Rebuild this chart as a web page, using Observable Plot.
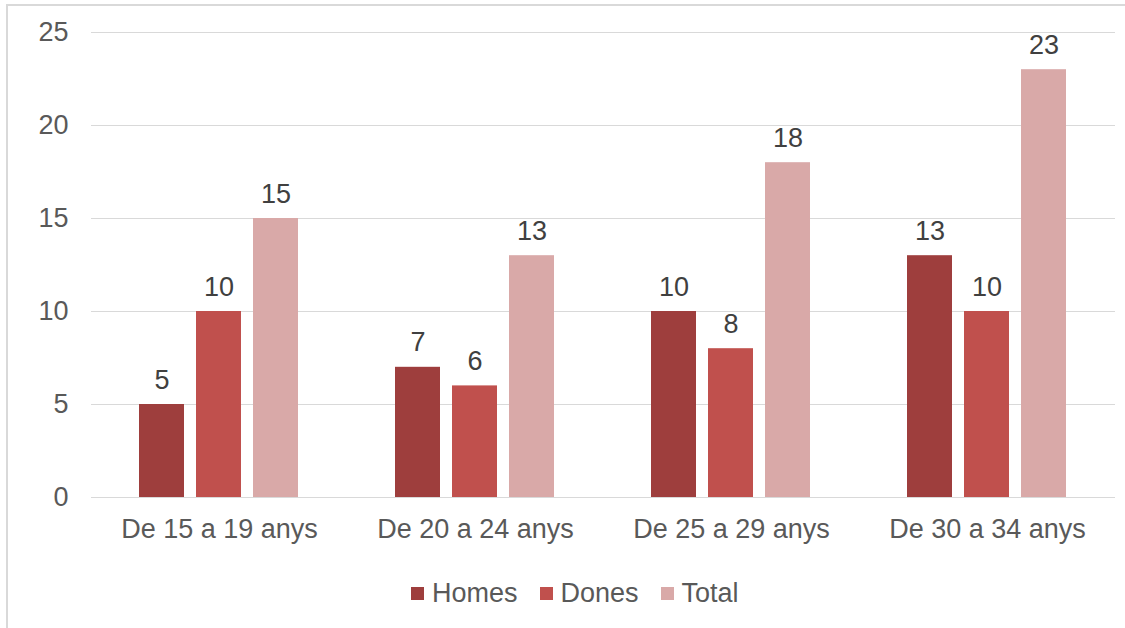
<!DOCTYPE html>
<html><head><meta charset="utf-8">
<script src="https://cdn.jsdelivr.net/npm/d3@7"></script>
<script src="https://cdn.jsdelivr.net/npm/@observablehq/plot@0.6"></script>
<style>
html,body{margin:0;padding:0;overflow:hidden;background:#fff;width:1125px;height:628px;font-family:'Liberation Sans',Arial,sans-serif;}
#frame{position:absolute;left:6px;top:4px;width:1300px;height:800px;border:2px solid #d9d9d9;box-sizing:border-box;pointer-events:none;z-index:2;}
#chart{position:absolute;left:0;top:0;}
#legend{position:absolute;left:411px;top:578px;display:flex;align-items:center;font-size:27px;color:#595959;line-height:30px;}
.item{display:flex;align-items:center;margin-right:22px;}
.sw{width:13px;height:13px;margin-right:8px;}
</style>
</head><body>
<div id="frame"></div>
<div id="chart"></div>
<div id="legend"></div>
<script>
const categories = ["De 15 a 19 anys","De 20 a 24 anys","De 25 a 29 anys","De 30 a 34 anys"];
const seriesNames = ["Homes","Dones","Total"];
const homes = [5,7,10,13];
const dones = [10,6,8,10];
const total = [15,13,18,23];
const colors = ["#9e3e3d","#c0504d","#d9a9a8"];
const yTicks = [0,5,10,15,20,25];

const seriesValues = [homes, dones, total];
const data = categories.flatMap((c,i)=>seriesNames.map((s,j)=>({cat:c, serie:s, value:seriesValues[j][i]})));

const chart = Plot.plot({
  width:1125, height:560, marginLeft:91, marginRight:10, marginTop:32, marginBottom:63,
  style:{fontFamily:"'Liberation Sans', Arial, sans-serif", fontSize:"27px", background:"transparent", overflow:"visible"},
  fx:{domain:categories, padding:0, label:null},
  x:{domain:seriesNames, paddingInner:0.21, paddingOuter:0.85, axis:null},
  y:{domain:[0,25], label:null},
  color:{domain:seriesNames, range:colors},
  marks:[
    Plot.gridY(yTicks,{stroke:"#d9d9d9", strokeOpacity:1}),
    Plot.barY(data,{fx:"cat", x:"serie", y:"value", fill:"serie"}),
    Plot.text(data,{fx:"cat", x:"serie", y:"value", text:d=>String(d.value), lineAnchor:"bottom", dy:-16, fill:"#404040"}),
    Plot.axisY(yTicks,{tickSize:0, tickPadding:23, color:"#595959", label:null}),
    Plot.axisFx({tickSize:0, tickPadding:21, color:"#595959", label:null, anchor:"bottom"})
  ]
});
document.getElementById("chart").appendChild(chart);

const legend = document.getElementById("legend");
seriesNames.forEach((s,i)=>{
  const item = document.createElement("div");
  item.className = "item";
  const sw = document.createElement("div");
  sw.className = "sw";
  sw.style.background = colors[i];
  const t = document.createElement("span");
  t.textContent = s;
  item.appendChild(sw); item.appendChild(t);
  legend.appendChild(item);
});
</script>
</body></html>
